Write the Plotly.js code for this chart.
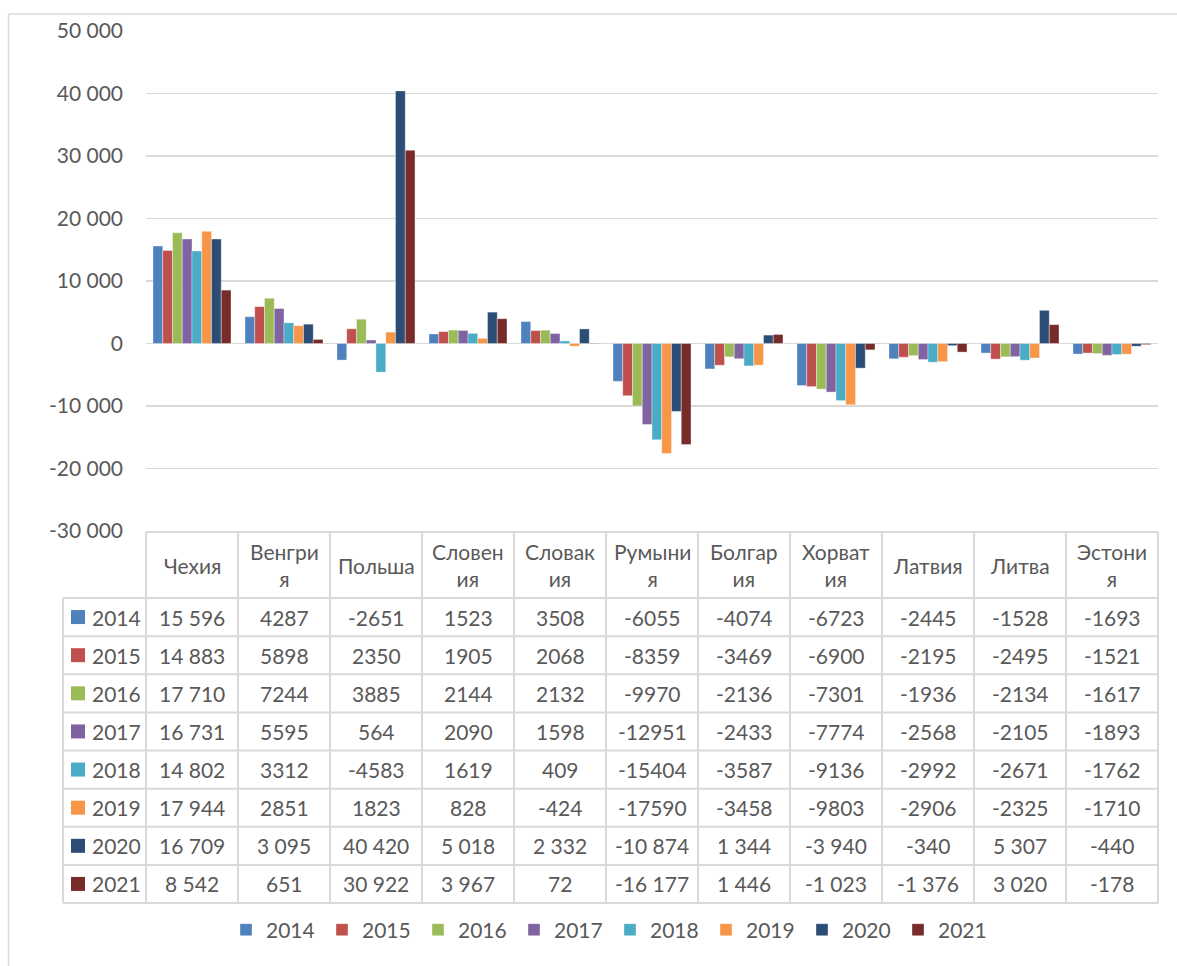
<!DOCTYPE html>
<html>
<head>
<meta charset="utf-8">
<script src="https://cdn.plot.ly/plotly-3.0.1.min.js"></script>
<style>html,body{margin:0;padding:0;background:#fff;}#chart{width:1177px;height:966px;}</style>
</head>
<body>
<div id="chart"></div>
<script>
// ---- data ----
const categories = ["Чехия","Венгрия","Польша","Словения","Словакия","Румыния","Болгария","Хорватия","Латвия","Литва","Эстония"];
const categoryHeaderLabels = ["Чехия","Венгри<br>я","Польша","Словен<br>ия","Словак<br>ия","Румыни<br>я","Болгар<br>ия","Хорват<br>ия","Латвия","Литва","Эстони<br>я"];
const years = ["2014","2015","2016","2017","2018","2019","2020","2021"];
const v2014 = [15596, 4287, -2651, 1523, 3508, -6055, -4074, -6723, -2445, -1528, -1693];
const v2015 = [14883, 5898, 2350, 1905, 2068, -8359, -3469, -6900, -2195, -2495, -1521];
const v2016 = [17710, 7244, 3885, 2144, 2132, -9970, -2136, -7301, -1936, -2134, -1617];
const v2017 = [16731, 5595, 564, 2090, 1598, -12951, -2433, -7774, -2568, -2105, -1893];
const v2018 = [14802, 3312, -4583, 1619, 409, -15404, -3587, -9136, -2992, -2671, -1762];
const v2019 = [17944, 2851, 1823, 828, -424, -17590, -3458, -9803, -2906, -2325, -1710];
const v2020 = [16709, 3095, 40420, 5018, 2332, -10874, 1344, -3940, -340, 5307, -440];
const v2021 = [8542, 651, 30922, 3967, 72, -16177, 1446, -1023, -1376, 3020, -178];
const yTickVals = [-30000, -20000, -10000, 0, 10000, 20000, 30000, 40000, 50000];
const yTickLabels = ["-30 000", "-20 000", "-10 000", "0", "10 000", "20 000", "30 000", "40 000", "50 000"];

const seriesValues = [v2014, v2015, v2016, v2017, v2018, v2019, v2020, v2021];
const colors = ["#4F81BD","#C0504D","#9BBB59","#8064A2","#4BACC6","#F79646","#2C4D75","#772C2A"];

// ---- geometry (pixels) ----
const W = 1177, H = 966;
const plotL = 146, plotR = 1158, plotT = 31, plotB = 531;
const pw = plotR - plotL, ph = plotB - plotT;
const px = x => (x - plotL) / pw;
const py = y => (plotB - y) / ph;
const gridC = "#D9D9D9", textC = "#595959";
const FONT = "Lato, 'Noto Sans', sans-serif";
const FS = 21;

const tableTop = 532, headerBottom = 598, tableBottom = 903;
const rowH = (tableBottom - headerBottom) / years.length;
const keyLeft = 63;
const colW = pw / categories.length;

function fmt(v, catIdx, yearIdx) {
  const grouped = catIdx === 0 || Number(years[yearIdx]) >= 2020;
  const s = String(Math.abs(v));
  let out = s;
  if (grouped && s.length > 3) out = s.replace(/\B(?=(\d{3})+(?!\d))/g, " ");
  return (v < 0 ? "-" : "") + out;
}

const traces = years.map((yr, i) => ({
  type: "bar",
  name: yr,
  x: categories,
  y: seriesValues[i],
  marker: {color: colors[i], line: {color: "rgba(255,255,255,0.45)", width: 0.8}},
  hoverinfo: "x+y+name"
}));

const shapes = [];
const annotations = [];
const line = (x0, y0, x1, y1, w) => shapes.push({type: "line", xref: "paper", yref: "paper",
  x0: px(x0), y0: py(y0), x1: px(x1), y1: py(y1), line: {color: gridC, width: w || 2}});

// outer chart border (left and top)
line(8.5, 14, 8.5, H + 5, 1.5);
line(8.5, 14, W + 5, 14, 1.5);

// table grid
line(plotL, tableTop, plotR, tableTop);
for (let k = 0; k <= years.length; k++) {
  const y = headerBottom + k * rowH;
  line(keyLeft, y, plotR, y);
}
line(keyLeft, headerBottom, keyLeft, tableBottom);
for (let j = 0; j <= categories.length; j++) {
  const x = plotL + j * colW;
  line(x, tableTop, x, tableBottom);
}

// header labels
categoryHeaderLabels.forEach((lab, j) => {
  annotations.push({xref: "paper", yref: "paper", x: px(plotL + (j + 0.5) * colW), y: py((tableTop + headerBottom) / 2),
    text: lab, showarrow: false, xanchor: "center", yanchor: "middle",
    font: {family: FONT, size: FS, color: textC}});
});

// row keys and cell values
years.forEach((yr, i) => {
  const cy = headerBottom + (i + 0.5) * rowH;
  shapes.push({type: "rect", xref: "paper", yref: "paper",
    x0: px(71), x1: px(85), y0: py(cy - 7), y1: py(cy + 7),
    fillcolor: colors[i], line: {width: 0}});
  annotations.push({xref: "paper", yref: "paper", x: px(90), y: py(cy), text: yr, showarrow: false,
    xanchor: "left", yanchor: "middle", font: {family: FONT, size: FS, color: textC}});
  seriesValues[i].forEach((v, j) => {
    annotations.push({xref: "paper", yref: "paper", x: px(plotL + (j + 0.5) * colW), y: py(cy),
      text: fmt(v, j, i), showarrow: false, xanchor: "center", yanchor: "middle",
      font: {family: FONT, size: FS, color: textC}});
  });
});

const layout = {
  width: W, height: H,
  margin: {l: plotL, r: W - plotR, t: plotT, b: H - plotB, pad: 0, autoexpand: false},
  paper_bgcolor: "#fff", plot_bgcolor: "#fff",
  barmode: "group", bargap: 0.152, bargroupgap: 0,
  showlegend: true,
  legend: {orientation: "h", x: px(226), xanchor: "left", y: py(930), yanchor: "middle",
    font: {family: FONT, size: FS, color: textC}, itemwidth: 30,
    entrywidth: 51, entrywidthmode: "pixels", traceorder: "normal", itemclick: false, itemdoubleclick: false},
  xaxis: {type: "category", showticklabels: false, showgrid: false, zeroline: false, showline: false, ticks: "", fixedrange: true},
  yaxis: {range: [-30000, 50000], tickvals: yTickVals, ticktext: yTickLabels, showgrid: true,
    gridcolor: gridC, gridwidth: 1.3, zeroline: true, zerolinecolor: gridC, zerolinewidth: 1.3,
    showline: false, ticks: "", ticklabelstandoff: 22, fixedrange: true,
    tickfont: {family: FONT, size: FS, color: textC}},
  shapes: shapes,
  annotations: annotations,
  font: {family: FONT, color: textC}
};

Plotly.newPlot("chart", traces, layout, {displayModeBar: false, staticPlot: true});
</script>
</body>
</html>
